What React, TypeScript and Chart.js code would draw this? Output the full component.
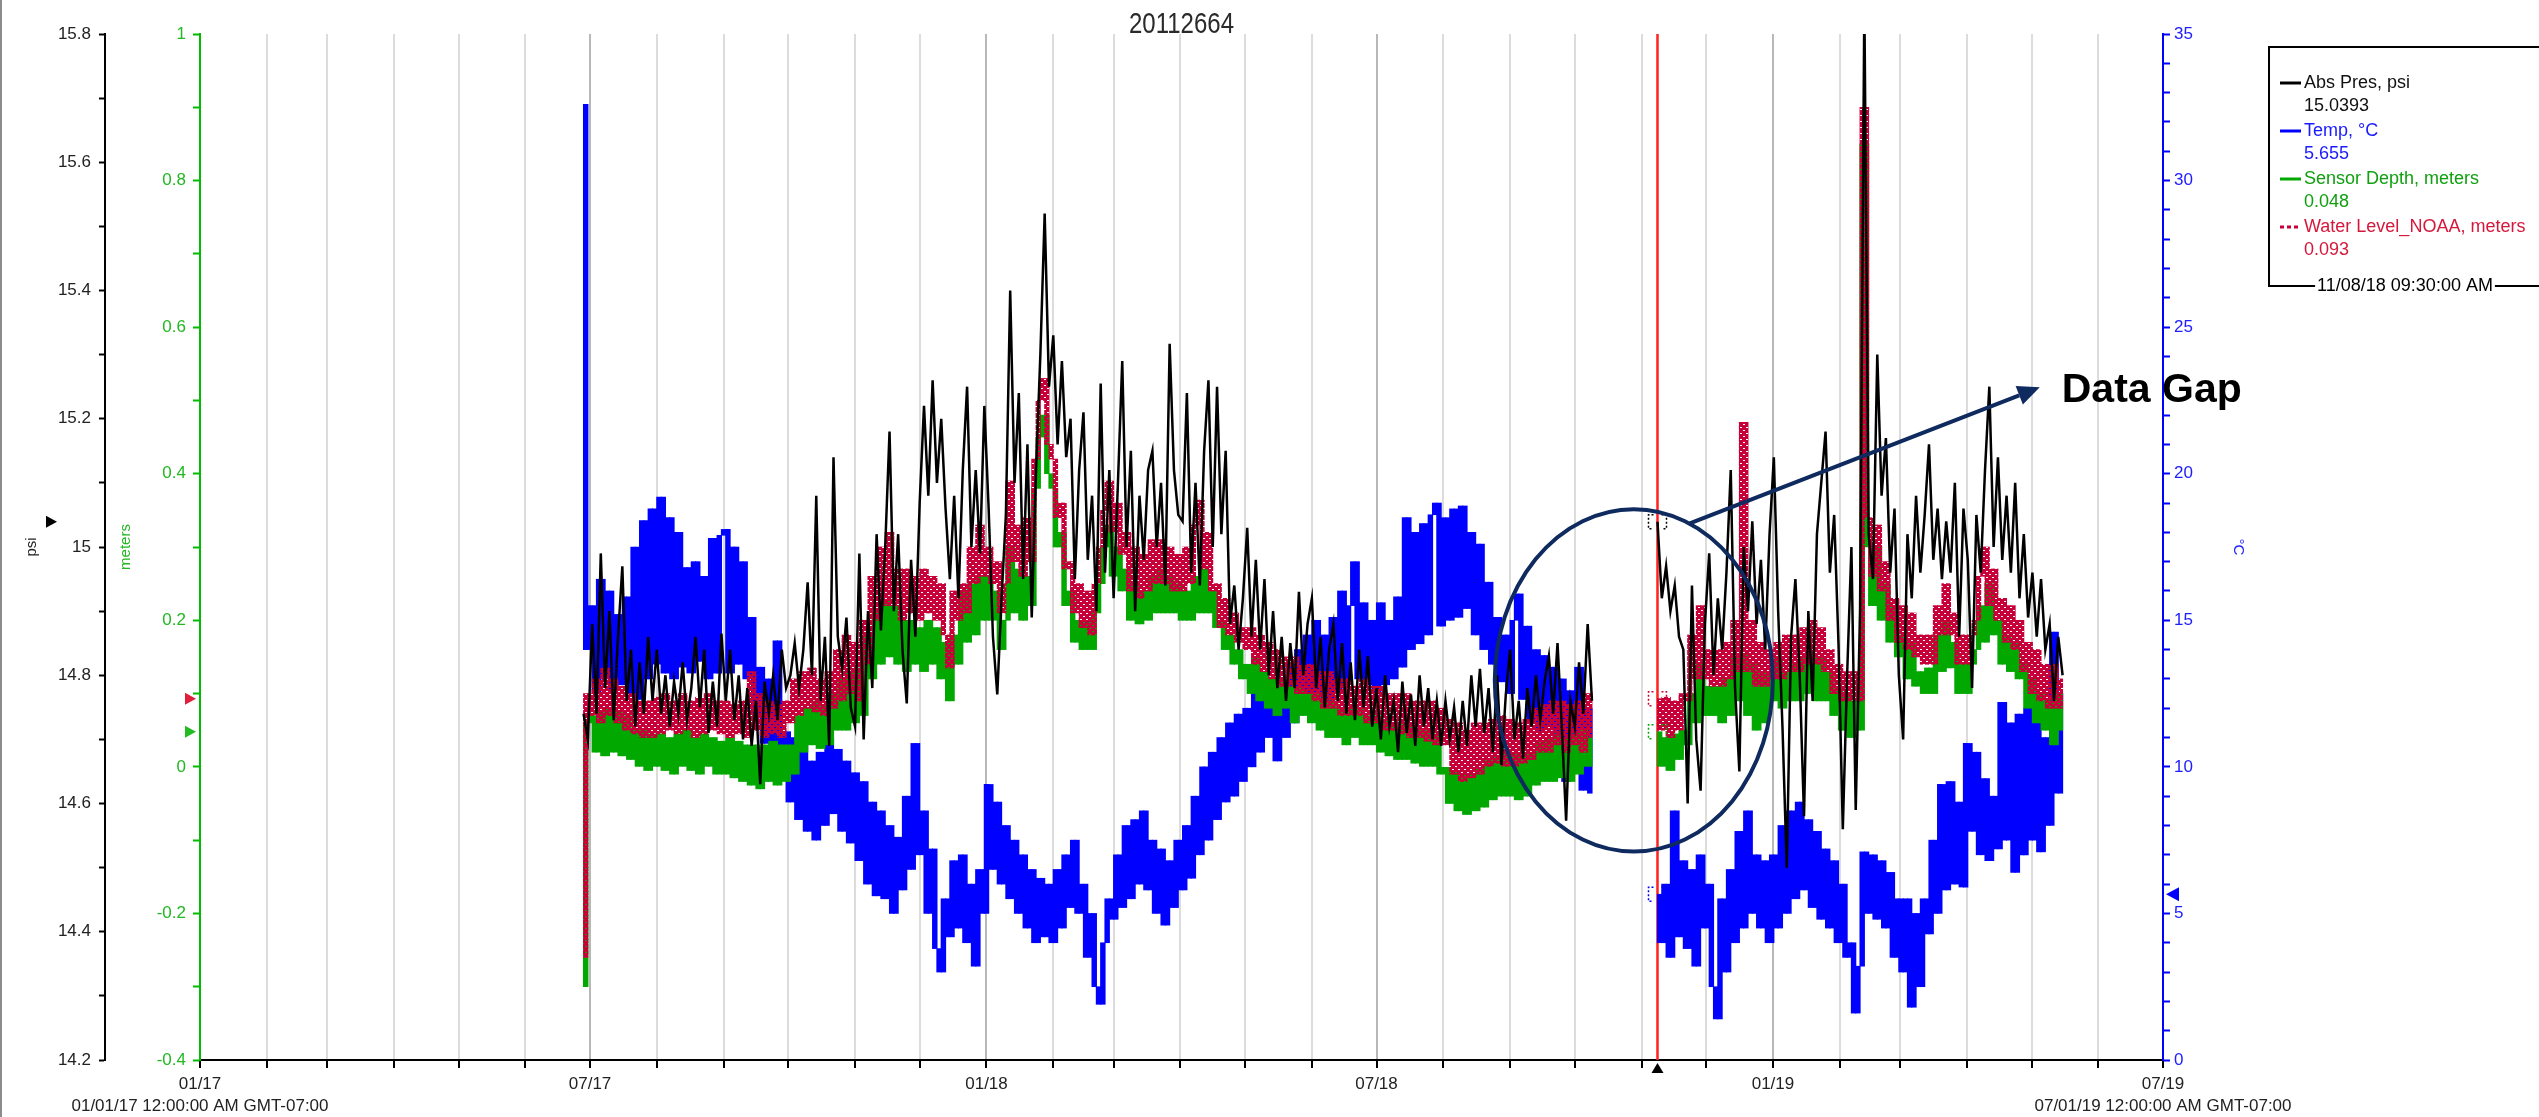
import { useEffect, useRef } from "react";
import { Chart, registerables } from "chart.js";

Chart.register(...registerables);

// ---------------- data ----------------
const LOGGER_SERIAL = "20112664";
const X_MAX_DAY = 911; // days after 01/01/17 -> 07/01/19
const MONTH_START_DAYS = [0, 31, 59, 90, 120, 151, 181, 212, 243, 273, 304, 334, 365, 396, 424, 455, 485, 516, 546, 577, 608, 638, 669, 699, 730, 761, 789, 820, 850, 881, 911];
const MONTH_TICK_LABELS: Record<number, string | string[]> = {
  0: ["01/17", "01/01/17 12:00:00 AM GMT-07:00"],
  181: "07/17",
  365: "01/18",
  546: "07/18",
  730: "01/19",
  911: ["07/19", "07/01/19 12:00:00 AM GMT-07:00"],
};

const SEG1_START_DAY = 178; // 06/28/17
const SEG2_START_DAY = 676.4; // 11/08/18 09:30
const GAP_DAY = 660;
const SAMPLE_STEP_DAYS = 2;
const CURSOR_DAY = 676.4;
const CURSOR_LABEL = "11/08/18 09:30:00 AM";

// Abs Pres, psi (alternating crest / trough readings)
const absPresSeg1 = [
  14.74, 14.70,
  14.88, 14.74, 14.99, 14.78, 14.90, 14.73, 14.86, 14.97, 14.76, 14.84, 14.72, 14.82, 14.74, 14.86, 14.76,
  14.84, 14.74, 14.80, 14.72, 14.79, 14.74, 14.82, 14.73, 14.78, 14.86, 14.75, 14.84, 14.71, 14.79, 14.72, 14.865,
  14.76, 14.84, 14.73, 14.80, 14.70, 14.78, 14.69, 14.76, 14.63, 14.79, 14.74, 14.80, 14.73, 14.84, 14.78,
  14.80, 14.85, 14.78, 14.84, 14.945, 14.80, 15.08, 14.76, 14.86, 14.69, 15.14, 14.86, 14.81, 14.89, 14.75,
  14.72, 14.99, 14.70, 14.90, 14.78, 15.02, 14.87, 15.00, 15.18, 14.90, 15.02, 14.84, 14.756, 14.98, 14.86,
  15.07, 15.22, 15.08, 15.26, 15.10, 15.20, 15.06, 14.95, 15.08, 14.92, 15.12, 15.25, 15.00, 15.12, 14.99, 15.22,
  15.06, 14.86, 14.77, 14.92, 15.05, 15.40, 15.10, 15.24, 14.95, 15.16, 14.89, 15.12, 15.30, 15.52, 15.25,
  15.33, 15.16, 15.29, 15.14, 15.20, 14.95, 15.12, 15.21, 14.98, 15.08, 14.90, 15.255, 14.96, 15.12,
  14.92, 15.10, 15.29, 15.00, 15.15, 14.90, 15.08, 14.98, 15.12, 15.15, 15.00, 15.10, 14.94, 15.317, 15.12, 15.05,
  15.04, 15.24, 14.96, 15.10, 14.94, 15.15, 15.26, 15.00, 15.25, 15.02, 15.15, 14.88, 14.94, 14.84, 14.92,
  15.03, 14.86, 14.98, 14.84, 14.95, 14.80, 14.90, 14.78, 14.86, 14.76, 14.85, 14.78, 14.93, 14.80, 14.88,
  14.92, 14.78, 14.86, 14.75, 14.84, 14.88, 14.76, 14.85, 14.74, 14.82, 14.73, 14.84, 14.75, 14.83, 14.72,
  14.78, 14.70, 14.80, 14.72, 14.76, 14.68, 14.79, 14.71, 14.77, 14.69, 14.80, 14.72, 14.78, 14.70, 14.76, 14.69,
  14.76, 14.70, 14.75, 14.68, 14.76, 14.69, 14.80, 14.72, 14.81, 14.71, 14.78, 14.68, 14.80, 14.66, 14.77,
  14.84, 14.70, 14.76, 14.67, 14.78, 14.72, 14.80, 14.73, 14.79, 14.83, 14.74, 14.85, 14.72, 14.573, 14.76,
  14.72, 14.82, 14.74, 14.88, 14.76,
];
const absPresSeg2 = [
  15.0393, 14.92, 14.97, 14.90, 14.94, 14.86, 14.84, 14.60, 14.94, 14.70, 14.62, 14.88,
  14.99, 14.80, 14.92, 14.84, 14.96, 15.12, 14.78, 14.65, 15.00, 14.90, 15.04, 14.88, 14.98, 14.84, 15.02,
  15.14, 14.90, 14.72, 14.50, 14.86, 14.95, 14.80, 14.58, 14.90, 14.76, 15.02, 15.10, 15.18, 14.96, 15.05, 14.85,
  14.56, 14.80, 15.00, 14.59, 14.90, 15.85, 15.02, 14.95, 15.30, 15.08, 15.17, 14.96, 15.06, 14.80,
  14.70, 15.02, 14.92, 15.08, 14.96, 15.05, 15.16, 14.98, 15.06, 14.95, 15.04, 14.96, 15.10, 14.86, 15.06,
  14.98, 14.78, 15.05, 14.96, 15.12, 15.25, 15.00, 15.14, 14.98, 15.08, 14.96, 15.10, 14.92, 15.02, 14.89,
  14.96, 14.86, 14.95, 14.84, 14.88, 14.76, 14.86, 14.80,
];

// Temp, °C
const tempSeg1 = [
  32.6, 14.0,
  15.5, 12.5, 16.4, 13.0, 16.0, 12.6, 15.2, 12.8, 15.8, 12.5, 17.5, 12.3, 18.4, 13.0, 18.8,
  13.5, 19.2, 13.2, 18.5, 13.0, 18.0, 13.4, 16.8, 13.2, 17.0, 13.6, 16.5, 13.0, 17.8, 13.2, 17.9,
  18.1, 13.2, 17.5, 13.5, 17.0, 13.0, 15.1, 11.8, 13.4, 10.8, 13.0, 10.6, 14.3, 10.5, 11.2,
  8.8, 11.0, 8.2, 10.8, 7.8, 10.2, 7.5, 10.5, 8.0, 11.0, 8.4, 10.6, 7.8, 10.2, 7.4,
  9.8, 6.8, 9.5, 6.0, 8.8, 5.6, 8.5, 5.5, 8.0, 5.0, 7.6, 5.8, 9.0, 6.5, 10.8,
  7.0, 8.5, 5.0, 7.2, 3.8, 3.0, 5.5, 4.2, 6.8, 4.5, 7.0, 4.0, 6.0, 3.2, 6.5, 5.0,
  9.4, 6.5, 8.8, 6.0, 8.0, 5.5, 7.5, 5.0, 7.0, 4.5, 6.5, 4.0, 6.2, 4.2, 6.0,
  4.0, 6.5, 4.5, 7.0, 5.2, 7.5, 5.0, 6.0, 3.5, 5.0, 2.5, 1.9, 4.0, 5.5,
  4.8, 7.0, 5.2, 8.0, 5.5, 8.2, 6.0, 8.5, 5.8, 7.5, 5.0, 7.2, 4.6, 6.8, 5.2, 7.5,
  5.8, 8.0, 6.2, 9.0, 7.0, 10.0, 7.5, 10.5, 8.2, 11.0, 8.8, 11.5, 9.0, 11.8, 9.5,
  12.0, 10.0, 12.8, 10.5, 13.2, 11.0, 12.5, 10.2, 13.0, 11.0, 13.5, 11.5, 14.0, 11.8, 14.5,
  12.0, 15.0, 12.2, 14.5, 12.0, 15.1, 12.5, 16.0, 12.8, 15.5, 17.0, 13.0, 15.6, 12.8, 15.0,
  12.5, 15.6, 12.8, 15.0, 13.0, 15.8, 13.4, 18.5, 14.0, 18.0, 14.2, 18.3, 14.5, 18.6, 19.0, 14.8,
  18.5, 15.0, 18.8, 15.1, 18.9, 15.4, 18.0, 14.5, 17.6, 14.0, 16.3, 13.5, 15.1, 12.9, 14.5,
  12.5, 15.0, 15.9, 12.3, 14.8, 11.5, 14.0, 11.2, 13.8, 11.4, 13.4, 10.0, 13.0, 9.5, 12.6,
  9.8, 13.4, 9.2, 12.0, 9.1,
];
const tempSeg2 = [
  5.655, 4.0, 6.0, 3.5, 8.5, 4.2, 6.8, 3.8, 6.5, 3.2, 7.0, 4.5,
  6.0, 2.5, 1.4, 5.5, 3.0, 6.5, 4.0, 7.8, 4.5, 8.5, 5.0, 7.0, 4.5, 6.8, 4.0,
  7.0, 4.5, 8.0, 5.0, 8.5, 5.5, 8.8, 5.8, 8.2, 5.2, 7.8, 4.8, 7.2, 4.5, 6.8, 4.0,
  6.0, 3.5, 4.0, 1.6, 3.2, 7.1, 5.0, 7.0, 4.8, 6.8, 4.5, 6.4, 3.5, 5.5,
  3.0, 5.5, 1.8, 5.0, 2.5, 5.5, 4.3, 7.5, 5.0, 9.4, 5.8, 9.5, 6.0, 8.8, 5.9,
  10.8, 7.8, 10.5, 7.0, 9.6, 6.8, 9.0, 7.2, 12.2, 7.5, 11.5, 6.4, 11.8, 7.0, 12.0,
  7.5, 11.9, 7.1, 11.0, 8.0, 14.6, 9.1, 12.5,
];

// Sensor Depth, meters
const depthSeg1 = [
  -0.30, 0.06,
  0.07, 0.02, 0.075, 0.015, 0.08, 0.02, 0.075, 0.015, 0.07, 0.01, 0.05, 0.0, 0.05, -0.005, 0.045,
  0.0, 0.045, -0.005, 0.04, -0.01, 0.045, 0.0, 0.05, -0.005, 0.04, -0.01, 0.045, 0.0, 0.04, -0.01, 0.035,
  -0.01, 0.04, -0.015, 0.035, -0.02, 0.03, -0.025, 0.03, -0.03, 0.03, -0.02, 0.035, -0.025, 0.03, -0.02,
  0.03, -0.01, 0.07, 0.02, 0.08, 0.03, 0.09, 0.025, 0.085, 0.03, 0.10, 0.05, 0.12, 0.05, 0.13,
  0.06, 0.135, 0.07, 0.18, 0.12, 0.21, 0.14, 0.227, 0.15, 0.22, 0.14, 0.20, 0.13, 0.20, 0.14,
  0.19, 0.13, 0.20, 0.14, 0.19, 0.12, 0.17, 0.09, 0.18, 0.14, 0.24, 0.17, 0.25, 0.18, 0.26, 0.20,
  0.26, 0.20, 0.24, 0.16, 0.20, 0.30, 0.21, 0.27, 0.20, 0.26, 0.22, 0.38, 0.45, 0.48, 0.40,
  0.38, 0.30, 0.32, 0.22, 0.24, 0.17, 0.20, 0.16, 0.20, 0.16, 0.21, 0.25, 0.30, 0.33,
  0.26, 0.30, 0.24, 0.27, 0.20, 0.25, 0.195, 0.24, 0.20, 0.26, 0.21, 0.27, 0.21, 0.26, 0.21, 0.25,
  0.20, 0.24, 0.20, 0.26, 0.21, 0.27, 0.21, 0.24, 0.19, 0.20, 0.16, 0.18, 0.14, 0.16, 0.12,
  0.14, 0.10, 0.15, 0.09, 0.13, 0.08, 0.12, 0.07, 0.12, 0.08, 0.11, 0.06, 0.11, 0.07, 0.10,
  0.06, 0.10, 0.05, 0.09, 0.04, 0.09, 0.04, 0.08, 0.03, 0.08, 0.04, 0.08, 0.03, 0.07, 0.03,
  0.07, 0.02, 0.065, 0.015, 0.06, 0.01, 0.06, 0.01, 0.055, 0.005, 0.05, 0.0, 0.05, 0.0, 0.045, -0.01,
  0.0, -0.05, -0.005, -0.06, -0.01, -0.065, -0.01, -0.06, 0.0, -0.055, 0.01, -0.045, 0.015, -0.04, 0.02,
  -0.04, 0.02, -0.045, 0.015, -0.04, 0.02, -0.025, 0.035, -0.02, 0.04, -0.02, 0.045, -0.015, 0.04, -0.02,
  0.045, -0.01, 0.05, 0.0, 0.04,
];
const depthSeg2 = [
  0.048, 0.0, 0.04, -0.005, 0.045, 0.01, 0.05, 0.03, 0.10, 0.06, 0.14, 0.07,
  0.11, 0.07, 0.11, 0.06, 0.12, 0.07, 0.15, 0.09, 0.155, 0.07, 0.14, 0.05, 0.13, 0.06, 0.13,
  0.09, 0.15, 0.08, 0.13, 0.09, 0.14, 0.09, 0.15, 0.10, 0.155, 0.09, 0.15, 0.09, 0.13, 0.07, 0.11,
  0.05, 0.10, 0.04, 0.09, 0.05, 0.85, 0.30, 0.22, 0.30, 0.20, 0.25, 0.17, 0.22, 0.15,
  0.18, 0.12, 0.17, 0.11, 0.13, 0.10, 0.135, 0.10, 0.18, 0.13, 0.20, 0.135, 0.17, 0.10, 0.14,
  0.10, 0.14, 0.16, 0.22, 0.17, 0.25, 0.18, 0.20, 0.14, 0.18, 0.13, 0.17, 0.12, 0.14, 0.08,
  0.12, 0.06, 0.10, 0.05, 0.09, 0.03, 0.10, 0.05,
];

// Water Level_NOAA, meters
const levelSeg1 = [
  -0.26, 0.10,
  0.07, 0.12, 0.06, 0.135, 0.07, 0.12, 0.06, 0.11, 0.05, 0.10, 0.045, 0.09, 0.04, 0.09, 0.04,
  0.095, 0.045, 0.10, 0.05, 0.09, 0.045, 0.10, 0.05, 0.09, 0.04, 0.095, 0.045, 0.10, 0.05, 0.09, 0.045,
  0.09, 0.04, 0.085, 0.045, 0.09, 0.04, 0.13, 0.05, 0.10, 0.04, 0.09, 0.045, 0.085, 0.04, 0.09,
  0.06, 0.12, 0.07, 0.13, 0.08, 0.135, 0.075, 0.12, 0.07, 0.13, 0.08, 0.16, 0.09, 0.18, 0.10,
  0.17, 0.09, 0.20, 0.14, 0.26, 0.20, 0.30, 0.22, 0.32, 0.22, 0.27, 0.20, 0.27, 0.21, 0.26,
  0.20, 0.27, 0.21, 0.26, 0.20, 0.25, 0.18, 0.135, 0.24, 0.20, 0.25, 0.21, 0.30, 0.25, 0.33, 0.26,
  0.30, 0.25, 0.28, 0.21, 0.25, 0.39, 0.28, 0.33, 0.26, 0.34, 0.28, 0.42, 0.50, 0.53, 0.44,
  0.42, 0.34, 0.36, 0.27, 0.28, 0.21, 0.25, 0.19, 0.24, 0.18, 0.25, 0.30, 0.35, 0.39,
  0.32, 0.36, 0.29, 0.32, 0.24, 0.30, 0.23, 0.29, 0.24, 0.31, 0.25, 0.31, 0.25, 0.30, 0.24, 0.29,
  0.24, 0.30, 0.25, 0.33, 0.364, 0.27, 0.32, 0.24, 0.25, 0.19, 0.23, 0.18, 0.21, 0.17, 0.19,
  0.16, 0.19, 0.14, 0.18, 0.13, 0.17, 0.12, 0.16, 0.11, 0.15, 0.11, 0.15, 0.10, 0.14, 0.10,
  0.14, 0.09, 0.13, 0.08, 0.13, 0.08, 0.12, 0.07, 0.12, 0.07, 0.11, 0.07, 0.12, 0.06, 0.11,
  0.06, 0.11, 0.05, 0.10, 0.05, 0.10, 0.045, 0.10, 0.04, 0.09, 0.04, 0.09, 0.035, 0.09, 0.03, 0.08,
  0.03, 0.065, -0.01, 0.06, -0.02, 0.05, -0.015, 0.06, -0.01, 0.06, 0.0, 0.065, 0.005, 0.07, 0.0,
  0.065, 0.0, 0.06, 0.005, 0.065, 0.01, 0.08, 0.02, 0.085, 0.02, 0.09, 0.03, 0.09, 0.02, 0.085,
  0.03, 0.09, 0.02, 0.10, 0.04,
];
const levelSeg2 = [
  0.093, 0.05, 0.095, 0.04, 0.09, 0.05, 0.10, 0.09, 0.18, 0.12, 0.22, 0.12,
  0.16, 0.11, 0.16, 0.11, 0.17, 0.12, 0.20, 0.13, 0.47, 0.13, 0.20, 0.11, 0.17, 0.11, 0.16,
  0.12, 0.17, 0.12, 0.18, 0.13, 0.18, 0.13, 0.19, 0.14, 0.20, 0.14, 0.19, 0.13, 0.16, 0.10, 0.14,
  0.09, 0.13, 0.09, 0.13, 0.09, 0.90, 0.34, 0.26, 0.33, 0.24, 0.28, 0.20, 0.23, 0.17,
  0.22, 0.16, 0.21, 0.15, 0.18, 0.14, 0.18, 0.14, 0.22, 0.18, 0.25, 0.18, 0.21, 0.14, 0.18,
  0.14, 0.18, 0.20, 0.26, 0.30, 0.22, 0.27, 0.20, 0.23, 0.17, 0.22, 0.16, 0.20, 0.13, 0.17,
  0.10, 0.16, 0.09, 0.14, 0.08, 0.14, 0.08, 0.12,
];

// "Data Gap" annotation, in data units (days, psi)
const GAP_ELLIPSE = { day: 665.4, psi: 14.792, halfDays: 64.5, halfPsi: 0.267 };
const GAP_ARROW = { fromDay: 691.4, fromPsi: 15.037, toDay: 853.8, toPsi: 15.249 };

// ---------------- styles ----------------
const FONT = '"Liberation Sans", Arial, Helvetica, sans-serif';
const C_PRES = "#000000";
const C_TEMP = "#0000ff";
const C_DEPTH = "#00a800";
const C_LEVEL = "#c8003a";
const C_AXIS_GREEN = "#00bb00";

const PSI_TICKS = Array.from({ length: 17 }, (_, i) => Math.round((14.2 + i * 0.1) * 10) / 10);
const M_TICKS = Array.from({ length: 15 }, (_, i) => Math.round((-0.4 + i * 0.1) * 10) / 10);
const T_TICKS = Array.from({ length: 36 }, (_, i) => i);

function toPoints(seg1: number[], seg2: number[]) {
  return [
    ...seg1.map((y, i) => ({ x: SEG1_START_DAY + i * SAMPLE_STEP_DAYS, y })),
    { x: GAP_DAY, y: null },
    ...seg2.map((y, i) => ({ x: SEG2_START_DAY + i * SAMPLE_STEP_DAYS, y })),
  ];
}

// range swept between consecutive crest/trough readings (dense tidal band)
function toSwingBars(seg1: number[], seg2: number[]) {
  const out: { x: number; y: [number, number] }[] = [];
  const segs: [number[], number][] = [[seg1, SEG1_START_DAY], [seg2, SEG2_START_DAY]];
  for (const [seg, start] of segs) {
    for (let i = 0; i < seg.length - 1; i++) {
      out.push({ x: start + (i + 0.5) * SAMPLE_STEP_DAYS, y: [seg[i], seg[i + 1]] });
    }
  }
  return out;
}

// dashed-line texture for the NOAA water level band
function dashedTexture(color: string) {
  const c = document.createElement("canvas");
  c.width = 6;
  c.height = 6;
  const g = c.getContext("2d")!;
  g.fillStyle = color;
  g.fillRect(0, 0, 6, 6);
  g.clearRect(0, 1, 2, 1);
  g.clearRect(3, 4, 2, 1);
  return g.createPattern(c, "repeat") || color;
}

function tri(ctx: CanvasRenderingContext2D, p: number[][], color: string) {
  ctx.beginPath();
  ctx.moveTo(p[0][0], p[0][1]);
  ctx.lineTo(p[1][0], p[1][1]);
  ctx.lineTo(p[2][0], p[2][1]);
  ctx.closePath();
  ctx.fillStyle = color;
  ctx.fill();
}

const overlayPlugin = {
  id: "hoboOverlay",
  beforeDatasetsDraw(chart: any) {
    const { ctx, chartArea, scales } = chart;
    const cx = scales.x.getPixelForValue(CURSOR_DAY);
    ctx.save();
    ctx.strokeStyle = "#ff2020";
    ctx.lineWidth = 2.5;
    ctx.beginPath();
    ctx.moveTo(cx, chartArea.top);
    ctx.lineTo(cx, chartArea.bottom);
    ctx.stroke();
    ctx.restore();
  },
  afterDraw(chart: any) {
    const { ctx, chartArea, scales } = chart;
    const { x, yP, yM, yT } = scales;
    const cur = { pres: absPresSeg2[0], temp: tempSeg2[0], depth: depthSeg2[0], level: levelSeg2[0] };
    ctx.save();

    // window edge
    ctx.fillStyle = "#8c8c8c";
    ctx.fillRect(0, 0, 2, chart.height);

    // title (condensed face)
    ctx.save();
    ctx.fillStyle = "#2a2a2a";
    ctx.font = '30px "Liberation Sans", Arial, sans-serif';
    ctx.textAlign = "center";
    ctx.textBaseline = "middle";
    ctx.translate((chartArea.left + chartArea.right) / 2, 25);
    ctx.scale(0.8, 1);
    ctx.fillText(LOGGER_SERIAL, 0, 0);
    ctx.restore();

    // cursor markers on axes
    const cx = x.getPixelForValue(CURSOR_DAY);
    const yPres = yP.getPixelForValue(cur.pres);
    const yLev = yM.getPixelForValue(cur.level);
    const yDep = yM.getPixelForValue(cur.depth);
    const yTmp = yT.getPixelForValue(cur.temp);
    tri(ctx, [[46, yPres - 6], [46, yPres + 6], [57, yPres]], C_PRES);
    tri(ctx, [[185, yLev - 6], [185, yLev + 6], [196, yLev]], "#e0203a");
    tri(ctx, [[185, yDep - 6], [185, yDep + 6], [196, yDep]], "#22bb22");
    tri(ctx, [[chartArea.right + 16, yTmp - 7], [chartArea.right + 16, yTmp + 7], [chartArea.right + 3, yTmp]], C_TEMP);
    tri(ctx, [[cx - 6, chartArea.bottom + 13], [cx + 6, chartArea.bottom + 13], [cx, chartArea.bottom + 3]], C_PRES);

    // cursor brackets
    ctx.setLineDash([2, 2]);
    ctx.lineWidth = 1.5;
    const brackets: [number, string][] = [[yPres, C_PRES], [yLev, C_LEVEL], [yDep, C_DEPTH], [yTmp, C_TEMP]];
    for (const [by, col] of brackets) {
      ctx.strokeStyle = col;
      ctx.beginPath();
      ctx.moveTo(cx - 4, by - 7); ctx.lineTo(cx - 9, by - 7); ctx.lineTo(cx - 9, by + 7); ctx.lineTo(cx - 4, by + 7);
      ctx.moveTo(cx + 4, by - 7); ctx.lineTo(cx + 9, by - 7); ctx.lineTo(cx + 9, by + 7); ctx.lineTo(cx + 4, by + 7);
      ctx.stroke();
    }
    ctx.setLineDash([]);

    // data gap annotation
    const navy = "#0f2a5f";
    const ex = x.getPixelForValue(GAP_ELLIPSE.day);
    const ey = yP.getPixelForValue(GAP_ELLIPSE.psi);
    const erx = x.getPixelForValue(GAP_ELLIPSE.day + GAP_ELLIPSE.halfDays) - ex;
    const ery = ey - yP.getPixelForValue(GAP_ELLIPSE.psi + GAP_ELLIPSE.halfPsi);
    ctx.strokeStyle = navy;
    ctx.lineWidth = 4;
    ctx.beginPath();
    ctx.ellipse(ex, ey, erx, ery, 0, 0, Math.PI * 2);
    ctx.stroke();

    const ax0 = x.getPixelForValue(GAP_ARROW.fromDay);
    const ay0 = yP.getPixelForValue(GAP_ARROW.fromPsi);
    const ax1 = x.getPixelForValue(GAP_ARROW.toDay);
    const ay1 = yP.getPixelForValue(GAP_ARROW.toPsi);
    const ang = Math.atan2(ay1 - ay0, ax1 - ax0);
    const headLen = 22, headW = 10;
    const bx = ax1 - headLen * Math.cos(ang);
    const by = ay1 - headLen * Math.sin(ang);
    ctx.beginPath();
    ctx.moveTo(ax0, ay0);
    ctx.lineTo(bx, by);
    ctx.stroke();
    tri(ctx, [
      [ax1, ay1],
      [bx + headW * Math.sin(ang), by - headW * Math.cos(ang)],
      [bx - headW * Math.sin(ang), by + headW * Math.cos(ang)],
    ], navy);

    ctx.fillStyle = "#000";
    ctx.font = 'bold 41px "Liberation Sans", Arial, sans-serif';
    ctx.textAlign = "left";
    ctx.textBaseline = "alphabetic";
    ctx.fillText("Data Gap", ax1 + 22, ay1 + 15);

    // legend box
    const L = 2269, T = 47, B = 286, R = 2545;
    ctx.font = `18px ${FONT}`;
    const dateW = ctx.measureText(CURSOR_LABEL).width;
    const dateCx = 2405;
    ctx.strokeStyle = "#000";
    ctx.lineWidth = 2;
    ctx.beginPath();
    ctx.moveTo(dateCx - dateW / 2 - 2, B);
    ctx.lineTo(L, B);
    ctx.lineTo(L, T);
    ctx.lineTo(R, T);
    ctx.moveTo(dateCx + dateW / 2 + 2, B);
    ctx.lineTo(R, B);
    ctx.stroke();
    ctx.fillStyle = "#000";
    ctx.textAlign = "center";
    ctx.textBaseline = "middle";
    ctx.fillText(CURSOR_LABEL, dateCx, B);

    const rows = [
      { label: "Abs Pres, psi", value: cur.pres.toFixed(4), color: C_PRES, text: "#111", dash: false },
      { label: "Temp, °C", value: cur.temp.toFixed(3), color: C_TEMP, text: "#1a1aff", dash: false },
      { label: "Sensor Depth, meters", value: cur.depth.toFixed(3), color: C_DEPTH, text: "#10a010", dash: false },
      { label: "Water Level_NOAA, meters", value: cur.level.toFixed(3), color: C_LEVEL, text: "#d4183c", dash: true },
    ];
    ctx.textAlign = "left";
    rows.forEach((r, i) => {
      const ly = 83 + i * 48;
      ctx.strokeStyle = r.color;
      ctx.lineWidth = 3;
      ctx.setLineDash(r.dash ? [4, 3] : []);
      ctx.beginPath();
      ctx.moveTo(2280, ly);
      ctx.lineTo(2301, ly);
      ctx.stroke();
      ctx.setLineDash([]);
      ctx.fillStyle = r.text;
      ctx.fillText(r.label, 2304, ly);
      ctx.fillText(r.value, 2304, ly + 23.5);
    });

    ctx.restore();
  },
};

export default function App() {
  const canvasRef = useRef<HTMLCanvasElement | null>(null);

  useEffect(() => {
    const canvas = canvasRef.current;
    if (!canvas) return;
    const lineCommon = { type: "line", pointRadius: 0, tension: 0, fill: false, spanGaps: false };
    const barCommon = { type: "bar", grouped: false, borderWidth: 0, minBarLength: 2.5 };
    const chart = new Chart(canvas, {
      type: "line",
      data: {
        datasets: [
          { ...lineCommon, label: "Abs Pres, psi", data: toPoints(absPresSeg1, absPresSeg2), yAxisID: "yP", borderColor: C_PRES, borderWidth: 2.5, order: 0 },
          { ...barCommon, label: "Water Level_NOAA, meters", data: toSwingBars(levelSeg1, levelSeg2), yAxisID: "yM", backgroundColor: dashedTexture(C_LEVEL), barThickness: 4.6, order: 1 },
          { ...barCommon, label: "Sensor Depth, meters", data: toSwingBars(depthSeg1, depthSeg2), yAxisID: "yM", backgroundColor: C_DEPTH, barThickness: 4.8, order: 2 },
          { ...barCommon, label: "Temp, °C", data: toSwingBars(tempSeg1, tempSeg2), yAxisID: "yT", backgroundColor: C_TEMP, barThickness: 4.8, order: 3 },
        ] as any,
      },
      options: {
        animation: false,
        responsive: false,
        devicePixelRatio: 1,
        events: [],
        layout: { padding: { left: 18, right: 287, top: 34, bottom: 0 } },
        plugins: { legend: { display: false }, tooltip: { enabled: false }, title: { display: false } },
        scales: {
          x: {
            type: "linear",
            offset: false,
            min: 0,
            max: X_MAX_DAY,
            afterBuildTicks: (s: any) => { s.ticks = MONTH_START_DAYS.map((v) => ({ value: v })); },
            afterFit: (s: any) => { s.height = 57; },
            ticks: {
              autoSkip: false,
              maxRotation: 0,
              minRotation: 0,
              padding: 5,
              color: "#222",
              font: { family: FONT, size: 17, lineHeight: 1.3 },
              callback: (v: any) => MONTH_TICK_LABELS[Number(v)] ?? "",
            },
            grid: {
              offset: false,
              color: (c: any) => (c.tick && MONTH_TICK_LABELS[c.tick.value] ? "#b8b8b8" : "#dcdcdc"),
              lineWidth: 2,
              tickColor: "#000",
              tickLength: 8,
              tickWidth: 2,
            },
            border: { color: "#000", width: 2 },
          },
          yP: {
            type: "linear",
            position: "left",
            weight: 2,
            min: 14.2,
            max: 15.8,
            afterBuildTicks: (s: any) => { s.ticks = PSI_TICKS.map((v) => ({ value: v })); },
            afterFit: (s: any) => { s.width = 87; },
            ticks: {
              autoSkip: false,
              padding: 8,
              color: "#222",
              font: { family: FONT, size: 17 },
              callback: (v: any) => { const k = Math.round(Number(v) * 10); return k % 2 === 0 ? String(k / 10) : ""; },
            },
            grid: { drawOnChartArea: false, tickLength: 6, tickColor: "#000", tickWidth: 2 },
            border: { color: "#000", width: 2 },
            title: { display: true, text: "psi", color: "#222", font: { family: FONT, size: 15 }, padding: { top: 5, bottom: 0 } },
          },
          yM: {
            type: "linear",
            position: "left",
            weight: 1,
            min: -0.4,
            max: 1,
            afterBuildTicks: (s: any) => { s.ticks = M_TICKS.map((v) => ({ value: v })); },
            afterFit: (s: any) => { s.width = 95; },
            ticks: {
              autoSkip: false,
              padding: 7,
              color: "#22b822",
              font: { family: FONT, size: 17 },
              callback: (v: any) => { const k = Math.round(Number(v) * 10); return k % 2 === 0 ? String(k / 10) : ""; },
            },
            grid: { drawOnChartArea: false, tickLength: 7, tickColor: C_AXIS_GREEN, tickWidth: 2 },
            border: { color: C_AXIS_GREEN, width: 2 },
            title: { display: true, text: "meters", color: "#22b822", font: { family: FONT, size: 15 }, padding: { top: 12, bottom: 0 } },
          },
          yT: {
            type: "linear",
            position: "right",
            min: 0,
            max: 35,
            afterBuildTicks: (s: any) => { s.ticks = T_TICKS.map((v) => ({ value: v })); },
            afterFit: (s: any) => { s.width = 89; },
            ticks: {
              autoSkip: false,
              padding: 4,
              color: "#2020ff",
              font: { family: FONT, size: 17 },
              callback: (v: any) => (Number(v) % 5 === 0 ? String(v) : ""),
            },
            grid: { drawOnChartArea: false, tickLength: 7, tickColor: C_TEMP, tickWidth: 2 },
            border: { color: C_TEMP, width: 2 },
            title: { display: true, text: "°C", color: "#2020ff", font: { family: FONT, size: 15 }, padding: { top: 5, bottom: 0 } },
          },
        },
      } as any,
      plugins: [overlayPlugin],
    });
    return () => chart.destroy();
  }, []);

  return (
    <div style={{ position: "fixed", left: 0, top: 0, width: 2539, height: 1117, background: "#fff" }}>
      <canvas ref={canvasRef} width={2539} height={1117} style={{ width: 2539, height: 1117, display: "block" }} />
    </div>
  );
}
